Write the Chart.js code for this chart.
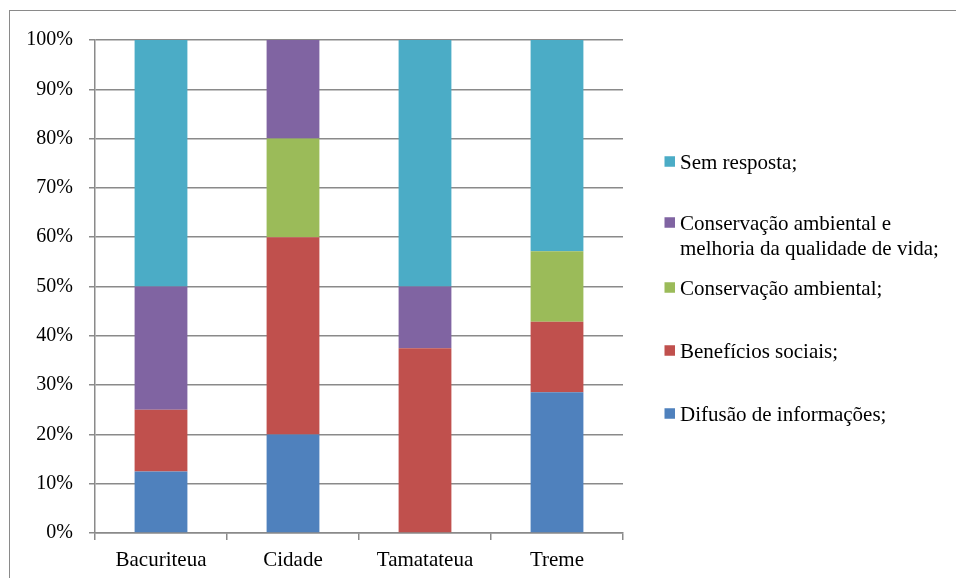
<!DOCTYPE html>
<html>
<head>
<meta charset="utf-8">
<script src="https://cdn.jsdelivr.net/npm/chart.js@4.4.0/dist/chart.umd.min.js"></script>
<style>
  html, body { margin: 0; padding: 0; background: #fff; overflow: hidden; }
  #wrap { position: relative; width: 956px; height: 578px; }
  #frame { position: absolute; left: 9px; top: 10px; width: 1200px; height: 1200px;
           border-left: 1.5px solid #8a8a8a; border-top: 1.5px solid #8a8a8a; }
  canvas { position: absolute; left: 0; top: 0; }
</style>
</head>
<body>
<div id="wrap">
  <div id="frame"></div>
  <canvas id="c" width="956" height="578"></canvas>
</div>
<script>
const categories = ['Bacuriteua', 'Cidade', 'Tamatateua', 'Treme'];
const difusao = [12.5, 20, 0, 28.57];
const beneficios = [12.5, 40, 37.5, 14.29];
const conservacao = [0, 20, 0, 14.29];
const conservacaoQualidade = [25, 20, 12.5, 0];
const semResposta = [50, 0, 50, 42.86];
const yTicks = [0, 10, 20, 30, 40, 50, 60, 70, 80, 90, 100];

const seriesLabels = [
  'Difusão de informações;',
  'Benefícios sociais;',
  'Conservação ambiental;',
  ['Conservação ambiental e', 'melhoria da qualidade de vida;'],
  'Sem resposta;'
];
const seriesData = [difusao, beneficios, conservacao, conservacaoQualidade, semResposta];
const colors = ['#4F81BD', '#C0504D', '#9BBB59', '#8064A2', '#4BACC6'];

const FONT = "'Liberation Serif', 'Times New Roman', serif";
const gridColor = '#8a8a8a';

// legend item vertical centres (top to bottom: Sem resposta ... Difusão)
const legendYs = [161.5, 222.5, 287.5, 350.5, 413.5];

const legendPlugin = {
  id: 'sideLegend',
  afterDraw(chart) {
    const ctx = chart.ctx;
    ctx.save();
    ctx.font = '21px ' + FONT;
    ctx.textBaseline = 'alphabetic';
    ctx.textAlign = 'left';
    const ds = chart.data.datasets;
    for (let i = 0; i < ds.length; i++) {
      const d = ds[ds.length - 1 - i];
      const y = legendYs[i];
      ctx.fillStyle = d.backgroundColor;
      ctx.fillRect(664.5, y - 5.25, 10.5, 10.5);
      ctx.fillStyle = '#000';
      const lines = Array.isArray(d.legendText) ? d.legendText : [d.legendText];
      lines.forEach((t, k) => ctx.fillText(t, 680, y + 7.5 + k * 25));
    }
    ctx.restore();
  }
};

new Chart(document.getElementById('c'), {
  type: 'bar',
  data: {
    labels: categories,
    datasets: seriesData.map((arr, i) => ({
      label: Array.isArray(seriesLabels[i]) ? seriesLabels[i].join(' ') : seriesLabels[i],
      legendText: seriesLabels[i],
      data: arr,
      backgroundColor: colors[i],
      borderWidth: 0,
      barPercentage: 0.4,
      categoryPercentage: 1.0
    }))
  },
  options: {
    responsive: false,
    animation: false,
    layout: { padding: { top: 40, right: 333, left: 0, bottom: 0 } },
    plugins: {
      legend: { display: false },
      tooltip: { enabled: false }
    },
    scales: {
      x: {
        stacked: true,
        grid: { display: true, drawOnChartArea: false, offset: true, tickLength: 7, color: gridColor, lineWidth: 1.5 },
        border: { display: true, color: gridColor, width: 1.5 },
        ticks: { color: '#000', font: { family: FONT, size: 21 }, padding: 8 },
        afterFit(scale) { scale.height = 45; }
      },
      y: {
        stacked: true,
        min: 0,
        max: 100,
        afterBuildTicks(scale) { scale.ticks = yTicks.map(v => ({ value: v })); },
        grid: { color: gridColor, lineWidth: 1.5, tickLength: 6 },
        border: { display: true, color: gridColor, width: 1.5 },
        ticks: {
          color: '#000',
          font: { family: FONT, size: 20 },
          padding: 16,
          callback: v => v + '%'
        },
        afterFit(scale) { scale.width = 95; }
      }
    }
  },
  plugins: [legendPlugin]
});
</script>
</body>
</html>
